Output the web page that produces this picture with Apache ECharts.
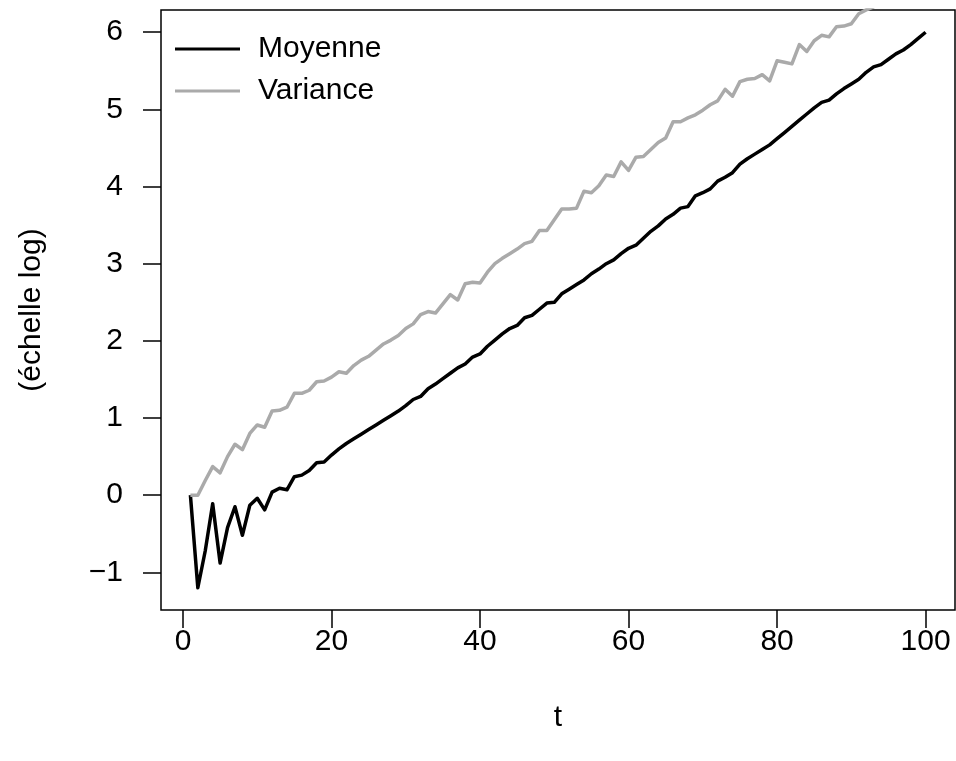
<!DOCTYPE html>
<html>
<head>
<meta charset="utf-8">
<script src="https://cdn.jsdelivr.net/npm/echarts@6/dist/echarts.min.js"></script>
<style>
  html, body { margin: 0; padding: 0; background: #ffffff; }
  #chart { width: 956px; height: 761px; }
</style>
</head>
<body>
<div id="chart"></div>
<script>
// Time steps t = 1..100
const steps = Array.from({ length: 100 }, (_, i) => i + 1);

// Log of the mean
const moyenne = [
  0.00, -1.20, -0.72, -0.11, -0.88, -0.42, -0.15, -0.52, -0.13, -0.04,
  -0.19, 0.04, 0.09, 0.07, 0.24, 0.26, 0.32, 0.42, 0.43, 0.52,
  0.60, 0.67, 0.73, 0.79, 0.85, 0.91, 0.97, 1.03, 1.09, 1.16,
  1.24, 1.28, 1.38, 1.44, 1.51, 1.58, 1.65, 1.70, 1.79, 1.83,
  1.93, 2.01, 2.09, 2.16, 2.20, 2.30, 2.33, 2.41, 2.49, 2.50,
  2.61, 2.67, 2.73, 2.79, 2.87, 2.93, 3.00, 3.05, 3.13, 3.20,
  3.24, 3.33, 3.42, 3.49, 3.58, 3.64, 3.72, 3.74, 3.88, 3.92,
  3.97, 4.07, 4.12, 4.18, 4.29, 4.36, 4.42, 4.48, 4.54, 4.62,
  4.70, 4.78, 4.86, 4.94, 5.02, 5.09, 5.12, 5.20, 5.27, 5.33,
  5.39, 5.48, 5.55, 5.58, 5.65, 5.72, 5.77, 5.84, 5.92, 6.00
];

// Log of the variance
const variance = [
  0.00, 0.00, 0.19, 0.37, 0.29, 0.50, 0.66, 0.59, 0.80, 0.91,
  0.88, 1.09, 1.10, 1.14, 1.32, 1.32, 1.36, 1.47, 1.48, 1.53,
  1.60, 1.58, 1.68, 1.75, 1.80, 1.88, 1.96, 2.01, 2.07, 2.16,
  2.22, 2.34, 2.38, 2.36, 2.48, 2.60, 2.53, 2.74, 2.76, 2.75,
  2.89, 3.00, 3.07, 3.13, 3.19, 3.26, 3.29, 3.43, 3.43, 3.57,
  3.71, 3.71, 3.72, 3.94, 3.92, 4.01, 4.15, 4.13, 4.32, 4.21,
  4.38, 4.39, 4.48, 4.57, 4.63, 4.84, 4.84, 4.89, 4.93, 4.99,
  5.06, 5.11, 5.26, 5.17, 5.36, 5.39, 5.40, 5.45, 5.37, 5.63,
  5.61, 5.59, 5.84, 5.75, 5.89, 5.96, 5.94, 6.07, 6.08, 6.11,
  6.24, 6.29, 6.33, 6.41, 6.44, 6.55, 6.58, 6.66, 6.71, 6.80
];

// Tick positions
const xTicks = [0, 20, 40, 60, 80, 100];
const yTicks = [-1, 0, 1, 2, 3, 4, 5, 6];

// Axis ranges padded by 4% of the data range on each side
const xMin = 1, xMax = 100;
const yMin = Math.min(...moyenne), yMax = Math.max(...moyenne);
const xPad = (xMax - xMin) * 0.04, yPad = (yMax - yMin) * 0.04;

const FONT = '"Liberation Sans", Arial, Helvetica, sans-serif';

const chart = echarts.init(document.getElementById('chart'), null, { renderer: 'canvas' });

chart.setOption({
  animation: false,
  backgroundColor: '#ffffff',
  textStyle: { fontFamily: FONT },
  grid: {
    left: 161, right: 1, top: 10, bottom: 151,
    show: true, borderColor: '#000000', borderWidth: 1.5,
    containLabel: false
  },
  legend: {
    orient: 'vertical',
    left: 170, top: 29,
    icon: 'rect',
    itemWidth: 65, itemHeight: 3,
    itemGap: 12,
    textStyle: { fontFamily: FONT, fontSize: 30, color: '#000000', lineHeight: 30, padding: [0, 0, 0, 13] },
    data: ['Moyenne', 'Variance']
  },
  xAxis: {
    type: 'value',
    min: xMin - xPad, max: xMax + xPad,
    name: 't',
    nameLocation: 'middle',
    nameGap: 93,
    nameTextStyle: { fontFamily: FONT, fontSize: 30, color: '#000000' },
    splitLine: { show: false },
    axisLine: { show: false, onZero: false },
    axisTick: { show: true, customValues: xTicks, length: 18, lineStyle: { color: '#000000', width: 1.5 } },
    axisLabel: { customValues: xTicks, margin: 17, fontFamily: FONT, fontSize: 30, color: '#000000' }
  },
  yAxis: {
    type: 'value',
    min: yMin - yPad, max: yMax + yPad,
    name: '(échelle log)',
    nameLocation: 'middle',
    nameGap: 114,
    nameRotate: 90,
    nameTextStyle: { fontFamily: FONT, fontSize: 30, color: '#000000' },
    splitLine: { show: false },
    axisLine: { show: false, onZero: false },
    axisTick: { show: true, customValues: yTicks, length: 18, lineStyle: { color: '#000000', width: 1.5 } },
    axisLabel: {
      customValues: yTicks, margin: 38, fontFamily: FONT, fontSize: 30, color: '#000000',
      formatter: v => (v < 0 ? '\u2212' + Math.abs(v) : String(v))
    }
  },
  series: [
    {
      name: 'Moyenne',
      type: 'line',
      data: steps.map((t, i) => [t, moyenne[i]]),
      showSymbol: false,
      symbol: 'none',
      clip: true,
      color: '#000000',
      lineStyle: { color: '#000000', width: 3.5, join: 'round' }
    },
    {
      name: 'Variance',
      type: 'line',
      data: steps.map((t, i) => [t, variance[i]]),
      showSymbol: false,
      symbol: 'none',
      clip: true,
      color: '#aaaaaa',
      lineStyle: { color: '#aaaaaa', width: 3.5, join: 'round' }
    }
  ]
});
</script>
</body>
</html>
